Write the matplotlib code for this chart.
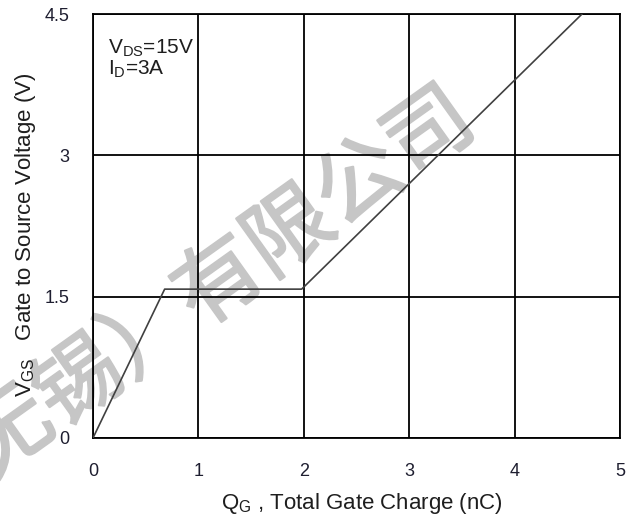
import matplotlib
matplotlib.use("Agg")
import matplotlib.pyplot as plt
import matplotlib.patheffects as pe

# gate charge curve
qg = [0, 0.68, 1.98, 4.64]
vgs = [0, 1.58, 1.58, 4.5]

xticks = [0, 1, 2, 3, 4, 5]
yticks = [0, 1.5, 3, 4.5]
ytick_labels = ["0", "1.5", "3", "4.5"]

watermark = "（无锡）有限公司"

plt.rcParams['font.family'] = ['Liberation Sans', 'DejaVu Sans']

fig = plt.figure(figsize=(6.3, 5.2), dpi=100)
ax = fig.add_axes([0.1476, 0.1577, 0.8364, 0.8153])
ax.set_facecolor('none')

# watermark goes under the axes
fig.text(0.2945, 0.405, watermark, rotation=35.5, rotation_mode='anchor',
         ha='center', va='center', fontsize=62, color='#c6c6c6',
         family=['Noto Sans CJK SC', 'DejaVu Sans'], zorder=-1,
         path_effects=[pe.withStroke(linewidth=1.6, foreground='#c6c6c6')])

ax.plot(qg, vgs, color='#404040', lw=1.2, zorder=3, clip_on=True)

ax.set_xlim(0, 5)
ax.set_ylim(0, 4.5)
ax.set_xticks(xticks)
ax.set_yticks(yticks)
ax.set_yticklabels(ytick_labels)
ax.tick_params(length=0, labelsize=13, labelcolor='#1e1e30')
ax.tick_params(axis='x', pad=18)
ax.tick_params(axis='y', pad=17)
ax.grid(True, color='black', lw=1.3)
for s in ax.spines.values():
    s.set_linewidth(1.3)

ax.set_xlabel(r'$\mathregular{Q_G}$ , Total Gate Charge (nC)', fontsize=16,
              color='#1e1e1e')
ax.xaxis.set_label_coords(0.51, -0.125)
ax.set_ylabel(r'$\mathregular{V_{GS}}$   Gate to Source Voltage (V)', fontsize=16,
              color='#1e1e1e')
ax.yaxis.set_label_coords(-0.105, 0.48)

ax.text(0.028, 0.945, r'$\mathregular{V_{DS}}$=15V', transform=ax.transAxes,
        fontsize=15, va='top', color='#1e1e1e')
ax.text(0.028, 0.895, r'$\mathregular{I_D}$=3A', transform=ax.transAxes,
        fontsize=15, va='top', color='#1e1e1e')

fig.savefig('out.png', dpi=100)
